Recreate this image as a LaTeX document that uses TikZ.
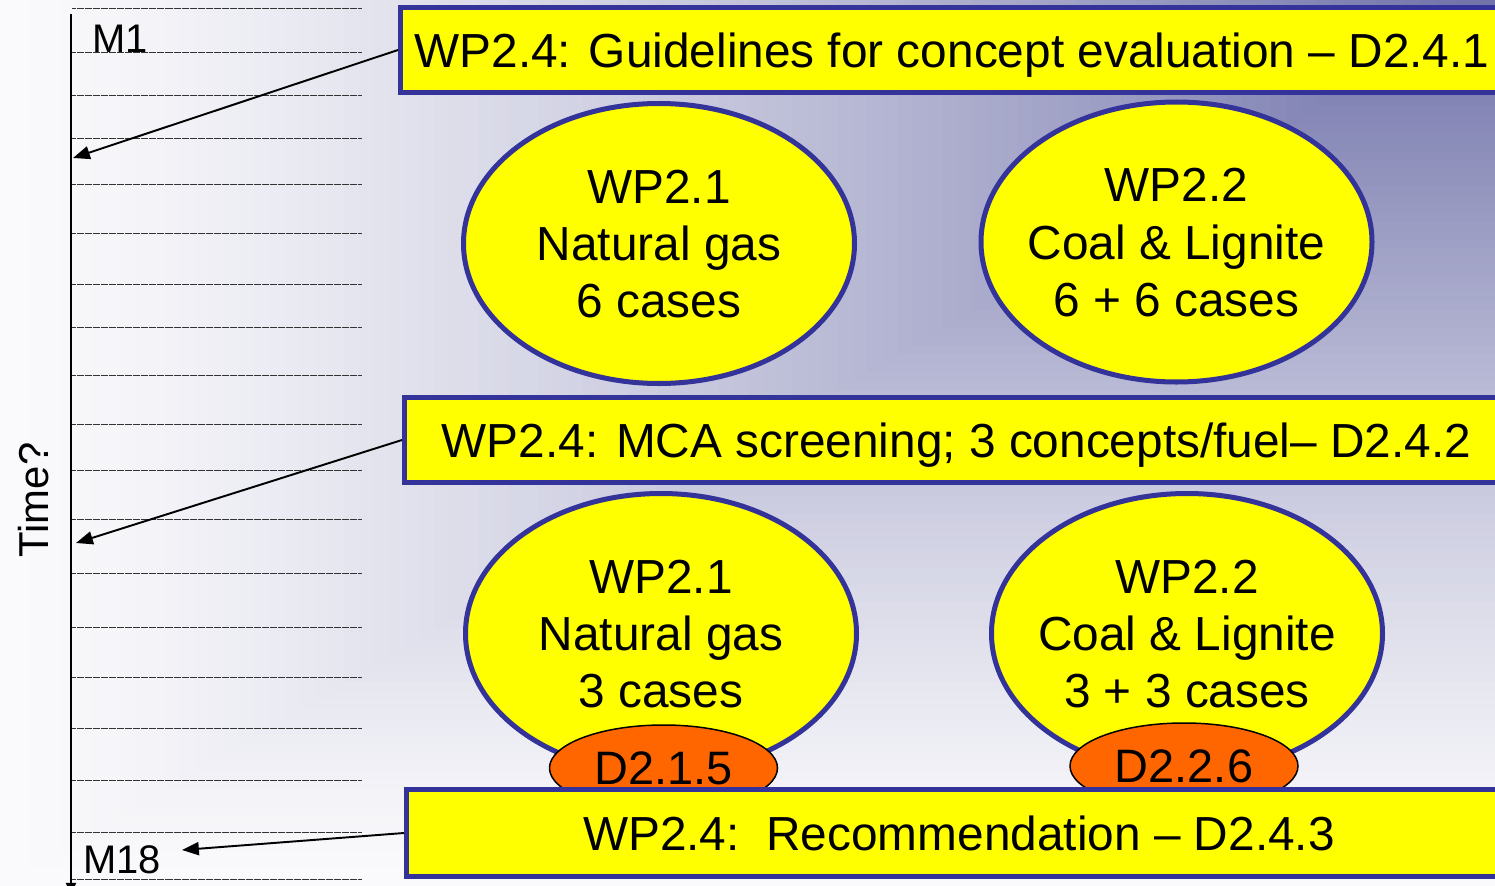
\documentclass[tikz,border=0pt]{standalone}
\usepackage{fontspec}
\setmainfont{Liberation Sans}
\usetikzlibrary{arrows.meta,shapes.geometric}
\newlength\PXu \setlength\PXu{0.02cm}
\definecolor{bgdark}{HTML}{6E70A8}
\definecolor{bglight}{HTML}{FAFAFC}
\definecolor{wpblue}{HTML}{333399}
\definecolor{wpyellow}{HTML}{FFFF00}
\definecolor{wporange}{HTML}{FF6600}
\newcommand\elstrut{\rule[-0.241em]{0pt}{1.198em}}
\begin{document}
\begin{tikzpicture}[x=0.02cm,y=-0.02cm,
  wpbox/.style={draw=wpblue,fill=wpyellow,line width=2.85pt,rectangle,inner sep=0pt,
    font=\fontsize{27.2pt}{32.6pt}\selectfont,text height=19.5pt,text depth=0pt},
  wpell/.style={draw=wpblue,fill=wpyellow,line width=2.85pt,ellipse,inner sep=0pt,
    minimum width=391\PXu,minimum height=280\PXu},
  elltext/.style={align=center,inner sep=0pt,font=\fontsize{27.2pt}{32.6pt}\selectfont},
  delv/.style={draw=black,fill=wporange,line width=0.85pt,ellipse,inner sep=0pt,
    minimum width=228\PXu,minimum height=86\PXu,
    font=\fontsize{26.7pt}{32pt}\selectfont,text height=19.1pt,text depth=0pt},
  tickline/.style={line width=0.45pt,dash pattern=on 0.35pt off 0.3pt,black!80},
  axisline/.style={line width=1.35pt,-{Triangle[length=5.7pt,width=5.7pt]}},
  pointer/.style={line width=1.1pt,-{Triangle[length=9.6pt,width=7.4pt]}},
  mlabel/.style={inner sep=0pt,anchor=base west,font=\fontsize{22.7pt}{27pt}\selectfont}
]
\useasboundingbox (0,0) rectangle (1495,886);
\clip (0,0) rectangle (1495,886);
% background: rectangular gradient from the top right corner
\foreach \i in {100,99,...,1}{%
  \pgfmathsetmacro\ff{\i/100}%
  \pgfmathsetmacro\pp{100*(1-(1.0001-\ff)^1.3)}%
  \fill[bglight!\pp!bgdark] ({1495*(1-\ff)},0) rectangle (1495,{886*\ff});
}
% month ticks
\foreach \yy in {8,52,95,138,184,233,284,327,375,424,470,519,573,627,677,728,780,832,879}{%
  \draw[tickline] (72,\yy) -- (361,\yy);
}
% time axis
\coordinate (axtop) at (71,14);
\coordinate (axbot) at (71,893);
\draw[axisline] (axtop) -- (axbot);
\node[mlabel] (m1) at (92,52) {M1};
\node[mlabel] (m18) at (83,873) {M18};
\node[rotate=90,inner sep=0pt,font=\fontsize{23.8pt}{28pt}\selectfont,
      text height=17pt,text depth=0pt] (time) at (33.5,500) {Time?};
% upper work packages
\node[wpell] (e1) at (659,243.5) {};
\node[elltext] (e1t) at (e1.center) {\elstrut WP2.1\\\elstrut Natural gas\\\elstrut 6 cases};
\node[wpell] (e2) at (1176.5,242) {};
\node[elltext] (e2t) at (e2.center) {\elstrut WP2.2\\\elstrut Coal \& Lignite\\\elstrut 6 + 6 cases};
% lower work packages
\node[wpell] (e3) at (661,633.5) {};
\node[elltext] (e3t) at (e3.center) {\elstrut WP2.1\\\elstrut Natural gas\\\elstrut 3 cases};
\node[wpell] (e4) at (1187,633.5) {};
\node[elltext] (e4t) at (e4.center) {\elstrut WP2.2\\\elstrut Coal \& Lignite\\\elstrut 3 + 3 cases};
\node[delv] (o1) at (663.5,768) {D2.1.5};
\node[delv] (o2) at (1184,766) {D2.2.6};
% WP2.4 bars
\node[wpbox,minimum width=1103\PXu,minimum height=85\PXu] (box1) at (952,50)
  {WP2.4: Guidelines for concept evaluation – D2.4.1};
\node[wpbox,minimum width=1104\PXu,minimum height=85\PXu] (box2) at (956.5,440)
  {WP2.4: MCA screening; 3 concepts/fuel– D2.4.2};
\node[wpbox,minimum width=1105\PXu,minimum height=87\PXu] (box3) at (959,833)
  {WP2.4:\ \ Recommendation – D2.4.3};
% pointers to the time axis
\coordinate (t1) at (73,158);
\coordinate (t2) at (76,543);
\coordinate (t3) at (182,850);
\draw[pointer] (box1.west) -- (t1);
\draw[pointer] (box2.west) -- (t2);
\draw[pointer] (box3.west) -- (t3);
\end{tikzpicture}
\end{document}
